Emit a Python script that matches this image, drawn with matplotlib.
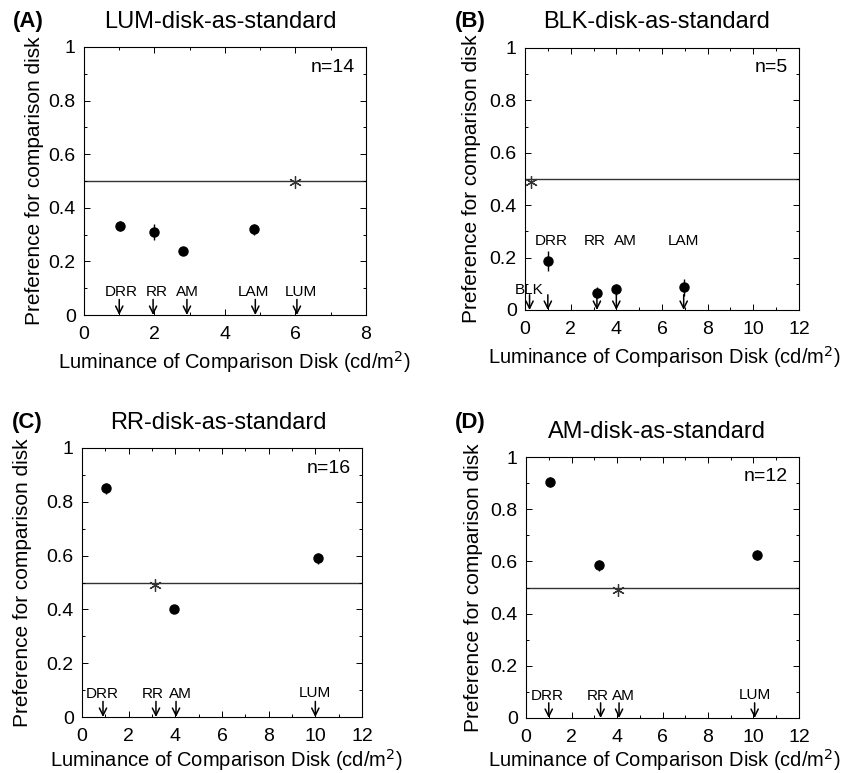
import numpy as np
import matplotlib
matplotlib.use('Agg')
import matplotlib.pyplot as plt
from matplotlib.ticker import MultipleLocator

plt.rcParams['font.family'] = ['Liberation Sans', 'DejaVu Sans']

# panel A: LUM standard
a_x = [1.02, 2.0, 2.8, 4.82]
a_y = [0.332, 0.311, 0.239, 0.32]
a_err = [0.02, 0.03, 0.012, 0.02]
a_star = (6.0, 0.495)
a_arrow_x = [1.0, 1.96, 2.92, 4.86, 6.04]
a_lab_x = [1.05, 2.07, 2.94, 4.8, 6.16]
a_arrow_lab = ['DRR', 'RR', 'AM', 'LAM', 'LUM']

# panel B: BLK standard
b_x = [1.0, 3.15, 3.99, 6.95]
b_y = [0.187, 0.066, 0.079, 0.087]
b_err = [0.04, 0.02, 0.02, 0.033]
b_star = (0.26, 0.49)
b_arrow_x = [0.2, 1.0, 3.15, 4.0, 6.95]
b_lab_x = [0.2, 1.16, 3.07, 4.38, 6.96]
b_arrow_lab = ['BLK', 'DRR', 'RR', 'AM', 'LAM']

# panel C: RR standard
c_x = [1.01, 3.94, 10.1]
c_y = [0.85, 0.40, 0.59]
c_err = [0.02, 0.01, 0.02]
c_star = (3.13, 0.49)
c_arrow_x = [0.9, 3.17, 4.03, 10.0]
c_lab_x = [0.88, 3.04, 4.2, 10.0]
c_arrow_lab = ['DRR', 'RR', 'AM', 'LUM']

# panel D: AM standard
d_x = [1.04, 3.2, 10.15]
d_y = [0.905, 0.585, 0.625]
d_err = [0.02, 0.02, 0.02]
d_star = (4.05, 0.49)
d_arrow_x = [1.0, 3.28, 4.09, 10.05]
d_lab_x = [0.95, 3.15, 4.26, 10.04]
d_arrow_lab = ['DRR', 'RR', 'AM', 'LUM']

fig = plt.figure(figsize=(8.54, 7.73), dpi=100)
W, H = 854.0, 773.0

def px_axes(l, t, r, b):
    return fig.add_axes([l / W, 1 - b / H, (r - l) / W, (b - t) / H])

panels = [
    dict(box=(84, 47, 366, 315), xmax=8, x=a_x, y=a_y, e=a_err, star=a_star,
         arr=a_arrow_x, labx=a_lab_x, lab=a_arrow_lab, n='n=14', tag='(A)',
         title='LUM-disk-as-standard', tag_xy=(13, 22), title_xy=(220, 22),
         ylab_x=35, xlab_xy=(234, 362), lab_y=[0.085] * 5),
    dict(box=(525, 48, 799, 310), xmax=12, x=b_x, y=b_y, e=b_err, star=b_star,
         arr=b_arrow_x, labx=b_lab_x, lab=b_arrow_lab, n='n=5', tag='(B)',
         title='BLK-disk-as-standard', tag_xy=(455, 22), title_xy=(657, 22),
         ylab_x=472, xlab_xy=(664, 357), lab_y=[0.075, 0.263, 0.263, 0.263, 0.263]),
    dict(box=(82, 448, 362, 717), xmax=12, x=c_x, y=c_y, e=c_err, star=c_star,
         arr=c_arrow_x, labx=c_lab_x, lab=c_arrow_lab, n='n=16', tag='(C)',
         title='RR-disk-as-standard', tag_xy=(12, 423), title_xy=(218, 423),
         ylab_x=23, xlab_xy=(226, 760), lab_y=[0.085, 0.085, 0.085, 0.09]),
    dict(box=(526, 457, 799, 718), xmax=12, x=d_x, y=d_y, e=d_err, star=d_star,
         arr=d_arrow_x, labx=d_lab_x, lab=d_arrow_lab, n='n=12', tag='(D)',
         title='AM-disk-as-standard', tag_xy=(455, 423), title_xy=(657, 432),
         ylab_x=474, xlab_xy=(664, 760), lab_y=[0.085, 0.085, 0.085, 0.09]),
]

for p in panels:
    ax = px_axes(*p['box'])
    ax.set_xlim(0, p['xmax'])
    ax.set_ylim(0, 1)
    ax.xaxis.set_major_locator(MultipleLocator(2))
    ax.xaxis.set_minor_locator(MultipleLocator(1))
    ax.yaxis.set_minor_locator(MultipleLocator(0.1))
    ax.set_yticks([0, 0.2, 0.4, 0.6, 0.8, 1.0])
    ax.set_yticklabels(['0', '0.2', '0.4', '0.6', '0.8', '1'])
    ax.tick_params(which='both', direction='in', top=True, right=True, labelsize=14, width=0.7)
    ax.tick_params(which='major', length=4.5, pad=6)
    ax.tick_params(which='minor', length=2.5)
    ax.tick_params(axis='x', which='major', pad=8)
    for s in ax.spines.values():
        s.set_linewidth(0.8)

    ax.axhline(0.5, color='#333333', lw=1.0, zorder=1)
    ax.errorbar(p['x'], p['y'], yerr=p['e'], fmt='o', color='black', ms=6.5,
                elinewidth=1.0, capsize=0, zorder=3)
    ax.plot(*p['star'], marker=(6, 2, 0), ms=9, color='#333333', mew=0.9, ls='none', zorder=3)

    for xv, lx, lb, ly in zip(p['arr'], p['labx'], p['lab'], p['lab_y']):
        ax.annotate('', xy=(xv, 0.0), xytext=(xv, 0.058),
                    arrowprops=dict(arrowstyle='->', color='black', lw=1.1,
                                    shrinkA=0, shrinkB=0, mutation_scale=13))
        ax.text(lx, ly, lb, ha='center', va='center', fontsize=11)

    ax.text(0.96, 0.925, p['n'], transform=ax.transAxes, ha='right', va='center', fontsize=14)

    l, t, r, b = p['box']
    fig.text(p['tag_xy'][0] / W, 1 - p['tag_xy'][1] / H, p['tag'], fontsize=16,
             fontweight='bold', ha='left', va='center')
    fig.text(p['title_xy'][0] / W, 1 - p['title_xy'][1] / H, p['title'], fontsize=17,
             ha='center', va='center')
    fig.text(p['ylab_x'] / W, 1 - (t + b) / 2 / H, 'Preference for comparison disk',
             rotation=90, fontsize=15, ha='center', va='center')
    fig.text(p['xlab_xy'][0] / W, 1 - p['xlab_xy'][1] / H,
             'Luminance of Comparison Disk (cd/m$^2$)', fontsize=14.5, ha='center', va='center')

fig.savefig('out.png', dpi=100)
